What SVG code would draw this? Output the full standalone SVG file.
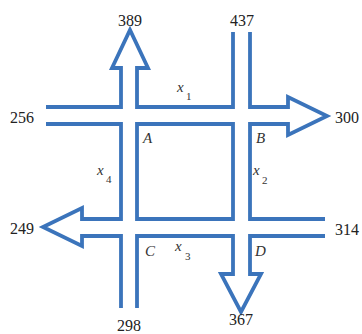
<svg xmlns="http://www.w3.org/2000/svg" width="362" height="334" viewBox="0 0 362 334">
<style>
.road{fill:none;stroke:#3b74bb;stroke-width:3.8;stroke-linejoin:miter;stroke-miterlimit:10}
.num{font-family:"Liberation Serif","DejaVu Serif","Times New Roman",serif;font-size:16px;fill:#222;text-anchor:middle}
.lbl{font-family:"Liberation Serif","DejaVu Serif","Times New Roman",serif;font-style:italic;font-size:15px;fill:#333}
.sub{font-family:"Liberation Serif","DejaVu Serif","Times New Roman",serif;font-size:11px;fill:#333}
</style>
<rect width="362" height="334" fill="#fff"/>
<g id="roads">
<path class="road" d="M46,107 H121 V68 H112 L130,30 L148,68 H137 V107 H233 V32"/>
<path class="road" d="M250,32 V107 H288 V97 L327,116 L288,135 V124 H250 V219 H325"/>
<path class="road" d="M325,236 H250 V274 H261 L241,312 L221,274 H233 V236 H137 V308"/>
<path class="road" d="M121,308 V236 H82 V246 L43,227 L82,208 V219 H121 V124 H46"/>
<path class="road" d="M137,124 H233 V219 H137 Z"/>
</g>
<g id="flows">
<text class="num" x="130" y="26">389</text>
<text class="num" x="242" y="26">437</text>
<text class="num" x="22" y="123">256</text>
<text class="num" x="347" y="123">300</text>
<text class="num" x="22" y="234">249</text>
<text class="num" x="347" y="235">314</text>
<text class="num" x="129" y="331">298</text>
<text class="num" x="241" y="325">367</text>
</g>
<g id="A"><text class="lbl" x="143" y="143">A</text></g>
<g id="B"><text class="lbl" x="256" y="143">B</text></g>
<g id="C"><text class="lbl" x="145" y="256">C</text></g>
<g id="D"><text class="lbl" x="255" y="256">D</text></g>
<g id="vars">
<text class="lbl" x="177" y="92">x</text><text class="sub" x="186" y="100">1</text>
<text class="lbl" x="97" y="175">x</text><text class="sub" x="106" y="183">4</text>
<text class="lbl" x="253" y="175">x</text><text class="sub" x="262" y="184">2</text>
<text class="lbl" x="175" y="251">x</text><text class="sub" x="185" y="260">3</text>
</g>
</svg>
